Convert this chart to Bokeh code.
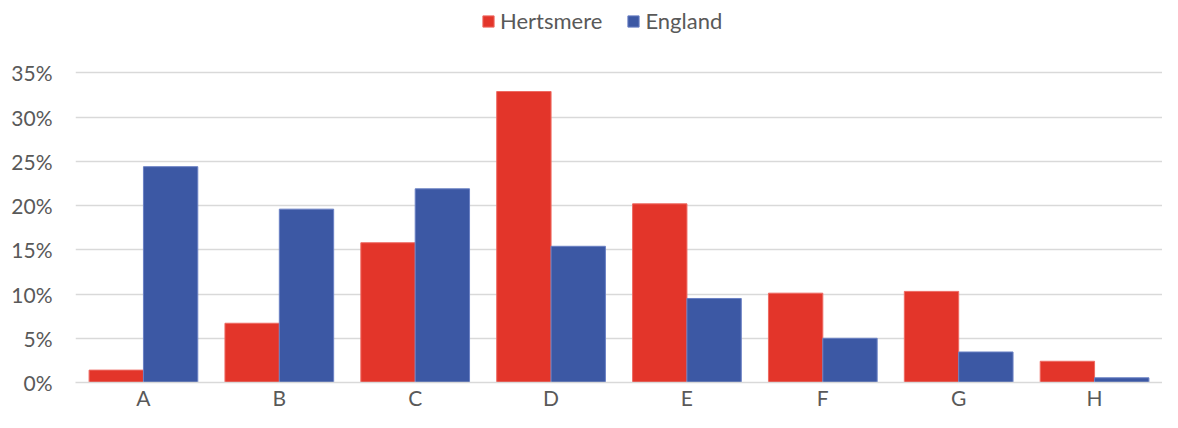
from bokeh.plotting import figure
from bokeh.models import (ColumnDataSource, FactorRange, Range1d, FixedTicker,
                          NumeralTickFormatter, Legend, LegendItem)
from bokeh.transform import dodge
from bokeh.embed import file_html
from bokeh.resources import INLINE

categories = ["A", "B", "C", "D", "E", "F", "G", "H"]
hertsmere = [0.014, 0.067, 0.158, 0.329, 0.202, 0.101, 0.103, 0.024]
england = [0.244, 0.196, 0.219, 0.154, 0.095, 0.050, 0.0345, 0.0053]
y_ticks = [0, 0.05, 0.10, 0.15, 0.20, 0.25, 0.30, 0.35]

RED = "#E3352A"
BLUE = "#3C58A4"
TEXT = "#595959"
GRID = "#D9D9D9"
FONT = "Lato"

W, H = 1162, 412
BORDER_BOTTOM = 27
FRAME_H = H - BORDER_BOTTOM
TOP_OF_35 = 73  # pixel row of the 35% gridline
y_end = 0.35 * FRAME_H / (FRAME_H - TOP_OF_35)

source = ColumnDataSource(dict(cat=categories, h=hertsmere, e=england))

p = figure(x_range=FactorRange(*categories, range_padding=0),
           y_range=Range1d(0, y_end),
           width=W, height=H, output_backend="svg",
           toolbar_location=None, min_border_left=75, min_border_right=0,
           min_border_top=0, min_border_bottom=BORDER_BOTTOM)
p.outline_line_color = None
p.background_fill_color = "white"
p.border_fill_color = "white"

rh = p.vbar(x=dodge("cat", -0.2, range=p.x_range), top="h", width=0.4,
            source=source, fill_color=RED, line_color="#EE6A62", line_width=1)
re = p.vbar(x=dodge("cat", 0.2, range=p.x_range), top="e", width=0.4,
            source=source, fill_color=BLUE, line_color="#6A80C4", line_width=1)

p.xgrid.grid_line_color = None
p.ygrid.grid_line_color = GRID
p.ygrid.grid_line_width = 1.5

p.yaxis.ticker = FixedTicker(ticks=y_ticks)
p.yaxis.formatter = NumeralTickFormatter(format="0%")
p.yaxis.axis_line_color = None
p.yaxis.major_tick_line_color = None
p.yaxis.minor_tick_line_color = None
p.yaxis.major_tick_out = 0
p.yaxis.major_tick_in = 0
p.yaxis.major_label_standoff = 23
p.yaxis.major_label_text_font = FONT
p.yaxis.major_label_text_font_size = "21px"
p.yaxis.major_label_text_color = TEXT

p.xaxis.axis_line_color = GRID
p.xaxis.axis_line_width = 1.5
p.xaxis.major_tick_line_color = None
p.xaxis.minor_tick_line_color = None
p.xaxis.major_tick_out = 0
p.xaxis.major_tick_in = 0
p.xaxis.major_label_standoff = 2
p.xaxis.major_label_text_font = FONT
p.xaxis.major_label_text_font_size = "21px"
p.xaxis.major_label_text_color = TEXT

legend = Legend(items=[LegendItem(label="Hertsmere", renderers=[rh]),
                       LegendItem(label="England", renderers=[re])],
                orientation="horizontal", location=(406, FRAME_H - 37),
                glyph_width=14, glyph_height=14, label_standoff=5,
                spacing=24, padding=0, margin=0,
                label_text_font=FONT, label_text_font_size="22px",
                label_text_color=TEXT, border_line_color=None,
                background_fill_alpha=0)
p.add_layout(legend, "center")

open("out.html", "w").write(file_html(p, INLINE))
